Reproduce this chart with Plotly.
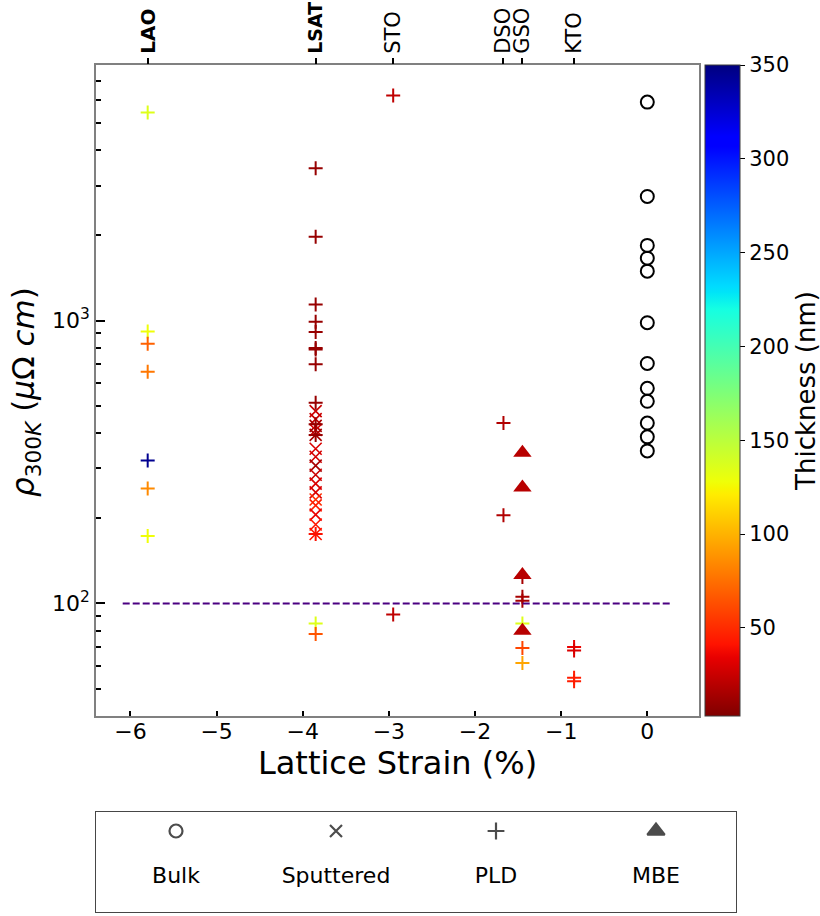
import numpy as np
import plotly.graph_objects as go

# ---- substrates (top axis) ----
substrate_names = ["LAO", "LSAT", "STO", "DSO", "GSO", "KTO"]
substrate_strain = [-5.80, -3.85, -2.95, -1.67, -1.45, -0.85]

# ---- bulk samples ----
bulk_strain = [0.0] * 12
bulk_rho = [5916, 2745, 1843, 1660, 1494, 982, 705, 576, 518, 434, 388, 346]

# ---- sputtered films ----
sputtered_strain = [-3.85] * 16
sputtered_rho = [478, 448, 424, 410, 352, 330, 307, 285, 265, 247, 233, 222, 206, 190, 176, 394]
sputtered_thick = [25, 25, 15, 30, 30, 28, 15, 25, 30, 30, 50, 45, 35, 42, 42, 15]

# ---- PLD films ----
pld_strain = ([-5.80] * 7 + [-3.85] * 14 + [-2.95] * 2 + [-1.67] * 2
              + [-1.45] * 6 + [-0.85] * 4)
pld_rho = ([5437, 915, 828, 659, 320, 255, 173]
           + [3452, 1978, 1138, 989, 910, 800, 790, 700, 512, 430, 394, 176, 85, 78]
           + [6246, 91.3]
           + [434, 205]
           + [124, 105.6, 102.2, 85, 69.5, 61.6]
           + [70.1, 68.2, 54.6, 53.1])
pld_thick = ([135, 128, 70, 78, 345, 85, 128]
             + [10, 10, 10, 10, 10, 10, 10, 10, 10, 10, 10, 40, 135, 65]
             + [22, 22]
             + [18, 18]
             + [15, 15, 15, 135, 60, 95]
             + [35, 30, 45, 45])

# ---- MBE films ----
mbe_strain = [-1.45] * 4
mbe_rho = [341, 257, 126, 80]
mbe_thick = [20, 20, 20, 20]

# ---- legend entries ----
legend_names = ["Bulk", "Sputtered", "PLD", "MBE"]
legend_symbols = ["circle-open", "x-thin-open", "cross-thin-open", "triangle-up"]

THICK_MIN, THICK_MAX = 3, 350
RHO_LIMIT = 100


def jet(s):
    r = np.interp(s, [0, 0.35, 0.66, 0.89, 1], [0, 0, 1, 1, 0.5])
    g = np.interp(s, [0, 0.125, 0.375, 0.64, 0.91, 1], [0, 0, 1, 1, 0, 0])
    b = np.interp(s, [0, 0.11, 0.34, 0.65, 1], [0.5, 1, 1, 0, 0])
    return "rgb(%d,%d,%d)" % (round(r * 255), round(g * 255), round(b * 255))


# reversed jet: thin films dark red, thick films dark blue
breaks = sorted(set([0, 0.11, 0.125, 0.34, 0.35, 0.375, 0.64, 0.65, 0.66, 0.89, 0.91, 1]
                    + list(np.linspace(0, 1, 21))))
jet_r = [[1 - s, jet(s)] for s in reversed(breaks)]

W, H = 820, 916
PX_L, PX_R, PX_T, PX_B = 96, 699, 65, 716


def px(x):
    return x / W


def py(y):
    return 1 - y / H


FONT = "DejaVu Sans"
fig = go.Figure()

fig.add_trace(go.Scatter(
    x=bulk_strain, y=bulk_rho, mode="markers", showlegend=False,
    marker=dict(symbol="circle-open", size=13, color="black", line=dict(width=2, color="black")),
))
fig.add_trace(go.Scatter(
    x=sputtered_strain, y=sputtered_rho, mode="markers", showlegend=False,
    marker=dict(symbol="x-thin-open", size=12, color=sputtered_thick, coloraxis="coloraxis",
                line=dict(width=1.6)),
))
fig.add_trace(go.Scatter(
    x=pld_strain, y=pld_rho, mode="markers", showlegend=False,
    marker=dict(symbol="cross-thin-open", size=10, color=pld_thick, coloraxis="coloraxis",
                line=dict(width=2)),
))
fig.add_trace(go.Scatter(
    x=mbe_strain, y=mbe_rho, mode="markers", showlegend=False,
    marker=dict(symbol="triangle-up", size=16, color=mbe_thick, coloraxis="coloraxis",
                line=dict(width=0)),
))
# carrier for the substrate axis along the top
fig.add_trace(go.Scatter(
    x=substrate_strain, y=[RHO_LIMIT] * len(substrate_strain), mode="markers",
    xaxis="x2", yaxis="y", showlegend=False, hoverinfo="skip",
    marker=dict(size=1, opacity=0),
))

# reference resistivity line
fig.add_shape(type="line", xref="x", yref="y", x0=-6.09, x1=0.29, y0=RHO_LIMIT, y1=RHO_LIMIT,
              line=dict(color="rgb(75,0,130)", width=2, dash="7px,3px"))

# legend panel
leg_x = [0.5, 1.5, 2.5, 3.5]
fig.add_trace(go.Scatter(
    x=leg_x, y=[0.81] * 4, mode="markers", showlegend=False, xaxis="x3", yaxis="y3",
    marker=dict(symbol=legend_symbols, size=[13, 12, 12, 15], color="black",
                line=dict(width=2.2, color="black")),
))
fig.add_trace(go.Scatter(
    x=leg_x, y=[0.35] * 4, mode="text", text=legend_names, showlegend=False,
    xaxis="x3", yaxis="y3", textfont=dict(family=FONT, size=22, color="black"),
))

frame = "rgb(128,128,128)"
minor_vals = [50, 60, 70, 80, 90, 200, 300, 400, 500, 600, 700, 800, 900,
              2000, 3000, 4000, 5000, 6000, 7000]
top_labels = ["<span style='font-size:20px'><b>%s</b></span>" % n if n in ("LAO", "LSAT") else n
              for n in substrate_names]
top_labels[1] = "<span style='font-size:19px'><b>LSAT</b></span>"

fig.update_layout(
    width=W, height=H, margin=dict(l=0, r=0, t=0, b=0, autoexpand=False),
    paper_bgcolor="white", plot_bgcolor="white",
    font=dict(family=FONT, color="black"),
    xaxis=dict(
        domain=[px(PX_L), px(PX_R)], range=[-6.4, 0.6], anchor="y",
        tickvals=[-6, -5, -4, -3, -2, -1, 0], ticks="inside", ticklen=5, tickwidth=1.5,
        tickcolor="black", tickfont=dict(size=22), showgrid=False, zeroline=False,
        ticklabelstandoff=-5,
        showline=True, linecolor=frame, linewidth=1.5, mirror=True,
        title=dict(text="Lattice Strain (%)", font=dict(size=32), standoff=0),
    ),
    xaxis2=dict(
        overlaying="x", side="top", anchor="y", range=[-6.4, 0.6],
        tickmode="array", tickvals=substrate_strain, ticktext=top_labels,
        ticks="outside", ticklen=6, tickwidth=1.5, tickcolor="black", tickangle=-90,
        tickfont=dict(size=21), showgrid=False, zeroline=False, showline=False,
    ),
    yaxis=dict(
        domain=[py(PX_B), py(PX_T)], type="log", range=[np.log10(40), np.log10(8000)],
        anchor="x", tickvals=[100, 1000], ticktext=["10<sup>2</sup>", "10<sup>3</sup>"],
        ticks="inside", ticklen=9, tickwidth=2, tickcolor="black", tickfont=dict(size=22),
        minor=dict(tickvals=minor_vals, ticks="inside", ticklen=5, tickwidth=1.5,
                   tickcolor="black", showgrid=False),
        showgrid=False, zeroline=False, showline=True, linecolor=frame, linewidth=1.5,
        mirror=True,
    ),
    xaxis3=dict(domain=[px(96), px(736)], range=[0, 4], anchor="y3", visible=True,
                showticklabels=False, ticks="", showgrid=False, zeroline=False,
                showline=True, linecolor="rgb(70,70,70)", linewidth=1.2, mirror=True),
    yaxis3=dict(domain=[py(912), py(812)], range=[0, 1], anchor="x3",
                showticklabels=False, ticks="", showgrid=False, zeroline=False,
                showline=True, linecolor="rgb(70,70,70)", linewidth=1.2, mirror=True),
    coloraxis=dict(
        colorscale=jet_r, cmin=THICK_MIN, cmax=THICK_MAX,
        colorbar=dict(
            x=px(705), xanchor="left", xpad=0, y=py((PX_T + PX_B) / 2), yanchor="middle",
            ypad=0, len=PX_B - PX_T, lenmode="pixels", thickness=35, thicknessmode="pixels",
            outlinewidth=1, outlinecolor="rgb(60,60,60)",
            tickvals=[50, 100, 150, 200, 250, 300, 350], ticks="outside", ticklen=5,
            tickcolor="black", tickfont=dict(size=21),
            title=dict(text="Thickness (nm)", side="right", font=dict(size=26)),
        ),
    ),
    annotations=[dict(
        text="<i>ρ</i><sub>300<i>K</i></sub> (<i>μ</i>Ω <i>cm</i>)",
        x=px(25), y=py(392), xref="paper", yref="paper", textangle=-90,
        showarrow=False, font=dict(size=31), xanchor="center", yanchor="middle",
    )],
)

fig.write_html("out.html")
